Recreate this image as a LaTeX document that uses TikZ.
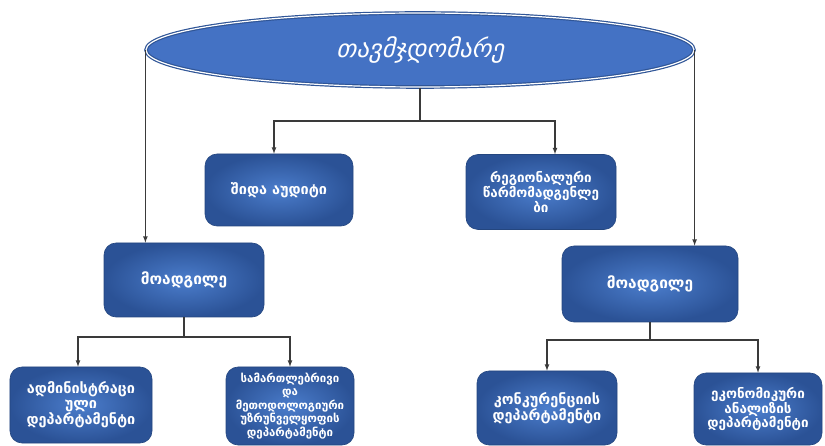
\documentclass[tikz,border=0pt]{standalone}
\usepackage{fontspec}
\usepackage{tikz}
\usetikzlibrary{shapes}
\newfontfamily\geo{DejaVu Sans}
\newfontfamily\geotitle{DejaVu Sans}[FakeSlant=0.22]

\definecolor{boxdark}{HTML}{2B5296}
\definecolor{boxlight}{HTML}{4B7DCC}
\definecolor{boxline}{HTML}{24467F}
\definecolor{ovalfill}{HTML}{4472C4}
\definecolor{ovalline}{HTML}{2F5597}
\definecolor{wire}{HTML}{3A3A3A}

\tikzset{
	unit/.style={rectangle,rounded corners=12bp,draw=boxline,line width=0.6bp,
		inner color=boxlight,outer color=boxdark,text=white,align=center,
		font=\geo\bfseries\fontsize{14.5}{14.5}\selectfont,inner sep=1bp},
	chief/.style={ellipse,fill=ovalfill,draw=ovalline,line width=1.2bp,
		double=white,double distance=1.2bp,text=white,inner sep=0pt,
		font=\geotitle\fontsize{25}{28}\selectfont},
	link/.style={draw=wire,line width=1.2bp}
}

\begin{document}
\begin{tikzpicture}[x=1bp,y=-1bp,>=latex]
	\useasboundingbox (0,0) rectangle (825,446);

		\node[chief,minimum width=548bp,minimum height=74bp] (ceo) at (420,50) {თავმჯდომარე};
		
		\node[unit,minimum width=148bp,minimum height=72bp] (audit) at (279,190) {შიდა აუდიტი};
		\node[unit,minimum width=150bp,minimum height=75bp,font=\geo\bfseries\fontsize{13.5}{13.5}\selectfont] (reg) at (541,192) {რეგიონალური\\წარმომადგენლე\\ბი};
		\node[unit,minimum width=160bp,minimum height=74bp,font=\geo\bfseries\fontsize{15.5}{16}\selectfont] (dep1) at (184,280) {მოადგილე};
		\node[unit,minimum width=176bp,minimum height=76bp,font=\geo\bfseries\fontsize{15.5}{16}\selectfont] (dep2) at (650,284) {მოადგილე};
		
		\node[unit,minimum width=142bp,minimum height=76bp] (adm) at (81,405) {ადმინისტრაცი\\ული\\დეპარტამენტი};
		\node[unit,minimum width=128bp,minimum height=78bp,font=\geo\bfseries\fontsize{11.5}{13.5}\selectfont] (legal) at (290,406) {სამართლებრივი\\და\\მეთოდოლოგიური\\უზრუნველყოფის\\დეპარტამენტი};
		\node[unit,minimum width=140bp,minimum height=74bp] (comp) at (547,408) {კონკურენციის\\დეპარტამენტი};
		\node[unit,minimum width=128bp,minimum height=72bp,font=\geo\bfseries\fontsize{13.5}{14.5}\selectfont] (econ) at (758,409) {ეკონომიკური\\ანალიზის\\დეპარტამენტი};
		
		\coordinate (t1) at (420,121);
		\coordinate (t2) at (184,337);
		\coordinate (t3) at (650,340);
		
		\draw[link] (ceo.south) -- (t1);
		\draw[link,->] (t1) -| ([xshift=-5bp]audit.north);
		\draw[link,->] (t1) -| ([xshift=14bp]reg.north);
		\draw[link,->] (ceo.west) -- (ceo.west |- dep1.north);
		\draw[link,->] (ceo.east) -- (ceo.east |- dep2.north);
		
		\draw[link] (dep1.south) -- (t2);
		\draw[link,->] (t2) -| ([xshift=-3bp]adm.north);
		\draw[link,->] (t2) -| (legal.north);
		\draw[link] (dep2.south) -- (t3);
		\draw[link,->] (t3) -| (comp.north);
		\draw[link,->] (t3) -| (econ.north);
		
	\end{tikzpicture}
\end{document}
